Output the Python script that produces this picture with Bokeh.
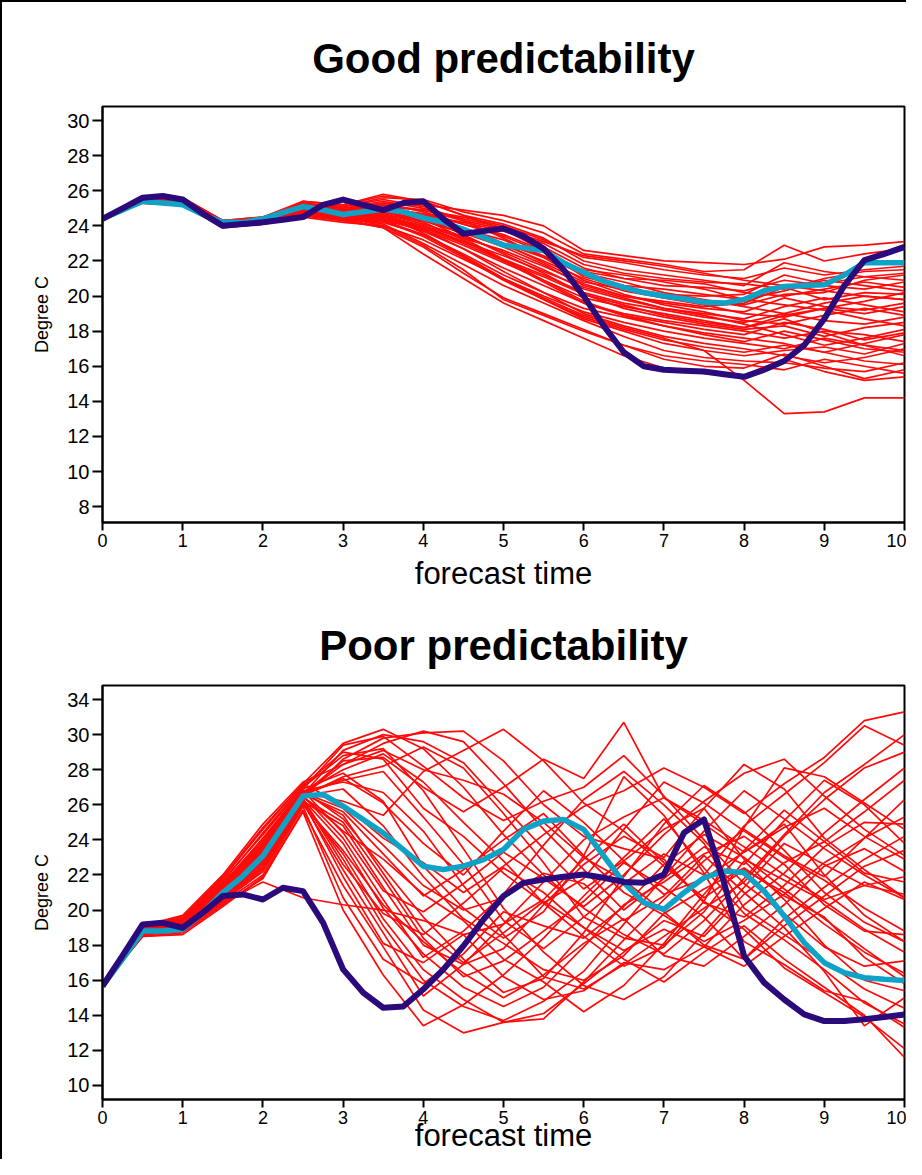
from bokeh.plotting import figure
from bokeh.layouts import column
from bokeh.models import Range1d, FixedTicker
from bokeh.embed import file_html
from bokeh.resources import INLINE

# ---------------- data ----------------
member_days = [0, 0.5, 1, 1.5, 2, 2.5, 3, 3.5, 4, 4.5, 5, 5.5, 6, 6.5, 7, 7.5, 8, 8.5, 9, 9.5, 10]
curve_days = [0, 0.25, 0.5, 0.75, 1, 1.25, 1.5, 1.75, 2, 2.25, 2.5, 2.75, 3, 3.25, 3.5, 3.75,
              4, 4.25, 4.5, 4.75, 5, 5.25, 5.5, 5.75, 6, 6.25, 6.5, 6.75, 7, 7.25, 7.5, 7.75,
              8, 8.25, 8.5, 8.75, 9, 9.25, 9.5, 9.75, 10]
x_ticks = [0, 1, 2, 3, 4, 5, 6, 7, 8, 9, 10]

good_title = "Good predictability"
good_yticks = [8, 10, 12, 14, 16, 18, 20, 22, 24, 26, 28, 30]
good_observed = [24.4, 25.0, 25.6, 25.7, 25.5, 24.7, 24.0, 24.1, 24.2, 24.35, 24.5, 25.2, 25.5, 25.2,
                 24.9, 25.3, 25.4, 24.4, 23.55, 23.7, 23.85, 23.4, 22.7, 21.5, 20.0, 18.3, 16.8,
                 16.0, 15.8, 15.75, 15.7, 15.55, 15.4, 15.8, 16.3, 17.2, 18.7, 20.6, 22.05, 22.4, 22.8]
good_mean = [24.4, 24.9, 25.4, 25.3, 25.2, 24.65, 24.2, 24.2, 24.4, 24.75, 25.1, 24.9, 24.65, 24.8,
             24.95, 24.8, 24.45, 24.2, 23.8, 23.35, 22.9, 22.75, 22.6, 21.9, 21.35, 20.85, 20.5,
             20.2, 20.0, 19.85, 19.65, 19.6, 19.8, 20.3, 20.55, 20.6, 20.65, 21.2, 21.9, 21.9, 21.9]
good_members = [
    [24.4, 25.5, 25.4, 24.1, 24.3, 25.1, 24.9, 25.3, 25.2, 24.9, 24.6, 24.0, 22.6, 22.3, 22.0, 21.9, 21.8, 22.1, 22.8, 22.9, 23.1],
    [24.4, 25.6, 25.6, 24.3, 24.4, 25.3, 25.1, 25.6, 25.5, 24.8, 24.3, 23.6, 22.4, 22.1, 21.8, 21.4, 21.5, 22.9, 22.0, 22.4, 22.7],
    [24.4, 25.4, 25.2, 24.0, 24.2, 24.9, 24.8, 25.1, 24.9, 24.5, 24.0, 23.2, 22.2, 21.9, 21.5, 21.2, 21.0, 21.6, 21.2, 21.5, 21.7],
    [24.4, 25.5, 25.5, 24.2, 24.3, 25.4, 25.2, 25.8, 25.4, 24.6, 24.1, 23.3, 22.0, 21.5, 21.2, 20.9, 20.6, 21.9, 21.4, 21.1, 20.9],
    [24.4, 25.3, 25.3, 24.0, 24.1, 24.8, 24.6, 24.9, 24.6, 24.2, 23.7, 23.0, 21.8, 21.3, 21.0, 20.8, 20.7, 20.4, 21.0, 21.4, 21.5],
    [24.4, 25.6, 25.4, 24.2, 24.5, 25.2, 25.0, 25.4, 25.0, 24.4, 23.9, 22.8, 21.6, 21.0, 20.6, 20.5, 20.3, 20.9, 20.6, 20.4, 20.8],
    [24.4, 25.5, 25.5, 24.1, 24.3, 25.0, 24.7, 25.0, 24.7, 24.1, 23.5, 22.6, 21.4, 21.0, 20.9, 20.7, 20.2, 20.0, 20.4, 20.8, 20.5],
    [24.4, 25.4, 25.3, 24.3, 24.4, 25.1, 24.8, 24.8, 24.4, 23.8, 23.2, 22.3, 21.2, 20.6, 20.4, 20.1, 19.8, 20.3, 20.9, 20.6, 20.3],
    [24.4, 25.5, 25.4, 24.0, 24.2, 24.7, 24.5, 24.6, 24.3, 23.6, 22.9, 22.0, 21.0, 20.3, 19.9, 19.6, 19.5, 20.1, 20.2, 20.9, 21.2],
    [24.4, 25.6, 25.6, 24.2, 24.3, 25.3, 25.0, 25.3, 24.8, 24.1, 23.4, 22.5, 21.3, 20.8, 20.2, 19.8, 19.4, 19.0, 19.6, 20.0, 19.8],
    [24.4, 25.3, 25.2, 23.9, 24.1, 24.6, 24.4, 24.5, 24.0, 23.3, 22.6, 21.7, 20.7, 20.0, 19.6, 19.3, 19.1, 19.9, 19.4, 19.2, 19.6],
    [24.4, 25.5, 25.5, 24.2, 24.4, 25.0, 24.9, 25.2, 24.6, 23.9, 23.0, 21.9, 20.8, 20.4, 19.9, 19.5, 19.0, 18.8, 19.3, 19.7, 20.2],
    [24.4, 25.4, 25.3, 24.1, 24.2, 24.8, 24.6, 24.7, 24.1, 23.4, 22.5, 21.5, 20.4, 19.8, 19.3, 19.0, 18.7, 19.4, 19.9, 19.5, 19.1],
    [24.4, 25.6, 25.5, 24.3, 24.5, 25.2, 25.1, 25.5, 25.1, 24.3, 23.3, 22.2, 20.9, 20.1, 19.5, 19.1, 18.6, 18.4, 18.9, 19.3, 18.9],
    [24.4, 25.5, 25.4, 24.1, 24.3, 24.9, 24.6, 24.6, 24.0, 23.1, 22.1, 21.2, 20.2, 19.6, 19.2, 18.8, 18.5, 19.0, 18.6, 18.4, 18.8],
    [24.4, 25.3, 25.2, 24.0, 24.1, 24.6, 24.3, 24.3, 23.8, 22.9, 21.9, 20.9, 19.9, 19.4, 19.0, 18.6, 18.2, 18.9, 19.3, 19.0, 19.4],
    [24.4, 25.6, 25.6, 24.2, 24.4, 25.1, 24.8, 25.0, 24.5, 23.5, 22.4, 21.3, 20.1, 19.3, 18.8, 18.4, 18.1, 18.3, 17.7, 18.2, 18.5],
    [24.4, 25.4, 25.3, 24.1, 24.2, 24.8, 24.5, 24.4, 23.7, 22.7, 21.6, 20.6, 19.6, 19.0, 18.6, 18.3, 18.0, 17.6, 18.0, 17.8, 17.4],
    [24.4, 25.5, 25.5, 24.2, 24.3, 25.0, 24.7, 24.8, 24.2, 23.2, 22.0, 20.8, 19.6, 18.9, 18.5, 18.1, 17.8, 18.5, 18.1, 17.5, 17.9],
    [24.4, 25.5, 25.4, 24.0, 24.2, 24.7, 24.4, 24.2, 23.5, 22.4, 21.2, 20.2, 19.3, 18.8, 18.3, 17.9, 17.6, 17.3, 16.8, 17.3, 17.8],
    [24.4, 25.6, 25.5, 24.3, 24.4, 25.2, 24.9, 25.1, 24.4, 23.3, 22.1, 20.9, 19.7, 18.9, 18.3, 17.8, 17.4, 18.0, 17.5, 17.0, 16.8],
    [24.4, 25.3, 25.2, 23.9, 24.1, 24.5, 24.2, 24.0, 23.2, 22.1, 21.0, 20.0, 19.1, 18.5, 18.0, 17.6, 17.3, 17.0, 17.6, 17.2, 16.6],
    [24.4, 25.4, 25.4, 24.1, 24.3, 24.9, 24.6, 24.5, 23.8, 22.7, 21.4, 20.2, 19.0, 18.3, 17.7, 17.3, 17.0, 16.6, 16.2, 16.5, 17.0],
    [24.4, 25.5, 25.5, 24.2, 24.3, 25.0, 24.6, 24.3, 23.4, 22.2, 20.9, 19.8, 18.8, 18.1, 17.5, 17.1, 16.8, 17.2, 16.8, 16.3, 16.1],
    [24.4, 25.6, 25.4, 24.1, 24.2, 24.8, 24.5, 24.1, 23.0, 21.8, 20.6, 19.6, 18.6, 17.7, 16.9, 16.5, 16.3, 16.2, 15.9, 15.7, 16.2],
    [24.4, 25.4, 25.3, 24.0, 24.1, 24.6, 24.3, 23.9, 22.8, 21.3, 19.9, 19.0, 18.1, 17.2, 16.4, 16.0, 15.9, 16.7, 16.0, 15.3, 15.8],
    [24.4, 25.5, 25.4, 24.2, 24.3, 24.9, 24.5, 24.0, 22.9, 21.5, 19.8, 18.9, 18.0, 17.2, 16.6, 16.3, 16.1, 15.8, 16.4, 16.0, 15.6],
    [24.4, 25.5, 25.5, 24.1, 24.2, 24.7, 24.4, 23.9, 22.4, 21.0, 19.6, 18.6, 17.6, 16.6, 15.9, 15.6, 15.5, 16.4, 15.7, 15.2, 15.4],
    [24.4, 25.4, 25.3, 24.0, 24.2, 24.8, 24.5, 24.3, 23.5, 22.3, 21.0, 19.9, 18.9, 18.2, 17.6, 16.9, 15.2, 13.3, 13.4, 14.2, 14.2],
    [24.4, 25.6, 25.5, 24.2, 24.4, 25.1, 24.8, 24.6, 23.6, 22.3, 21.0, 19.8, 18.7, 18.0, 17.3, 16.9, 16.6, 16.9, 17.1, 16.7, 17.3],
    [24.4, 25.5, 25.4, 24.1, 24.3, 24.9, 24.7, 24.9, 24.5, 23.8, 23.0, 22.2, 21.5, 21.2, 20.8, 20.4, 19.8, 19.5, 19.2, 18.7, 18.3],
    [24.4, 25.4, 25.3, 24.2, 24.3, 25.0, 24.7, 25.2, 24.9, 24.3, 23.8, 23.1, 22.3, 22.0, 21.7, 21.3, 20.9, 20.6, 20.3, 20.0, 19.8],
    [24.4, 25.5, 25.5, 24.1, 24.2, 24.8, 24.6, 24.8, 24.3, 23.6, 22.8, 21.8, 20.6, 20.0, 19.7, 19.4, 19.6, 20.5, 19.8, 20.2, 20.1],
    [24.4, 25.6, 25.6, 24.3, 24.5, 25.4, 25.2, 25.7, 25.4, 24.6, 23.8, 22.6, 21.1, 20.5, 20.1, 20.0, 20.1, 21.2, 20.7, 21.1, 21.3],
    [24.4, 25.3, 25.2, 24.0, 24.1, 24.6, 24.4, 24.4, 23.9, 23.1, 22.3, 21.4, 20.5, 19.9, 19.3, 18.9, 18.4, 17.8, 17.2, 17.6, 18.1],
    [24.4, 25.5, 25.4, 24.2, 24.3, 24.9, 24.6, 24.5, 23.9, 23.0, 22.0, 21.1, 20.1, 19.5, 18.9, 18.5, 18.2, 18.7, 17.9, 17.2, 16.9],
]

poor_title = "Poor predictability"
poor_yticks = [10, 12, 14, 16, 18, 20, 22, 24, 26, 28, 30, 32]
poor_ytick_labels = ["10", "12", "14", "16", "18", "20", "22", "24", "26", "28", "30", "34"]
poor_observed = [15.67, 17.4, 19.18, 19.27, 18.99, 19.85, 20.8, 20.89, 20.6, 21.27, 21.08, 19.28, 16.62,
                 15.29, 14.43, 14.5, 15.48, 16.62, 17.95, 19.46, 20.8, 21.55, 21.74, 21.9, 22.03,
                 21.84, 21.6, 21.55, 22.03, 24.4, 25.16, 21.56, 17.38, 15.86, 14.9, 14.05, 13.67,
                 13.67, 13.77, 13.9, 14.05]
poor_mean = [15.67, 17.2, 18.8, 18.8, 18.9, 19.85, 20.99, 21.94, 23.08, 24.79, 26.5, 26.59, 25.93,
             25.16, 24.4, 23.45, 22.5, 22.31, 22.5, 22.88, 23.45, 24.6, 25.07, 25.16, 24.6, 23.08,
             21.56, 20.42, 20.04, 20.99, 21.84, 22.22, 22.12, 21.08, 19.66, 18.14, 17.0, 16.43,
             16.14, 16.05, 15.99]
poor_members = [
    [15.7, 18.9, 19.3, 21.2, 23.4, 26.6, 29.1, 30.0, 29.6, 28.4, 25.9, 23.5, 21.2, 22.8, 24.6, 25.8, 22.9, 21.7, 20.5, 18.9, 17.6],
    [15.7, 18.8, 19.1, 20.9, 23.0, 26.4, 28.6, 29.8, 30.1, 30.2, 28.5, 26.0, 24.2, 23.5, 22.9, 20.4, 19.6, 21.4, 23.6, 25.0, 24.9],
    [15.7, 19.0, 19.5, 21.5, 24.0, 26.9, 27.8, 26.2, 22.5, 20.1, 18.4, 19.9, 23.1, 27.6, 25.4, 22.1, 18.2, 16.9, 15.4, 14.8, 13.3],
    [15.7, 18.7, 19.0, 20.7, 22.6, 26.2, 24.8, 21.3, 18.0, 16.9, 17.8, 20.3, 22.6, 24.2, 23.0, 25.8, 28.3, 26.9, 24.1, 22.3, 20.7],
    [15.7, 18.9, 19.4, 21.3, 23.7, 26.8, 25.2, 22.4, 19.6, 17.2, 15.3, 16.1, 18.7, 21.9, 24.9, 27.1, 25.6, 23.4, 21.0, 19.3, 18.2],
    [15.7, 18.6, 18.8, 20.5, 22.2, 26.0, 23.2, 19.5, 16.6, 14.9, 13.6, 13.8, 15.9, 18.3, 20.6, 22.8, 24.6, 23.1, 21.9, 24.1, 26.3],
    [15.7, 19.1, 19.6, 21.8, 24.6, 27.2, 29.5, 30.3, 29.2, 27.0, 24.3, 22.0, 20.1, 18.6, 17.5, 19.4, 21.8, 24.3, 26.7, 28.3, 30.0],
    [15.7, 18.8, 19.2, 21.0, 23.1, 26.5, 26.9, 24.8, 21.9, 19.5, 18.1, 16.6, 16.0, 17.4, 19.8, 21.2, 22.4, 20.8, 19.6, 17.3, 15.8],
    [15.7, 18.7, 18.9, 20.6, 22.4, 26.1, 22.3, 18.7, 15.1, 16.9, 19.2, 21.6, 24.0, 25.3, 26.4, 24.9, 23.3, 24.7, 25.8, 24.2, 22.9],
    [15.7, 18.9, 19.3, 21.4, 23.6, 26.7, 28.0, 28.9, 27.3, 25.0, 22.8, 20.4, 18.5, 16.8, 17.9, 20.5, 24.7, 28.1, 27.6, 26.1, 24.6],
    [15.7, 19.0, 19.5, 21.7, 24.3, 27.0, 28.8, 29.2, 26.8, 23.5, 20.1, 17.6, 15.7, 14.9, 16.2, 18.7, 21.3, 23.8, 22.6, 21.4, 20.9],
    [15.7, 18.5, 18.7, 20.3, 21.8, 25.7, 21.4, 17.9, 14.3, 13.0, 13.6, 14.1, 15.8, 17.6, 19.4, 18.5, 20.9, 22.7, 23.9, 25.6, 27.4],
    [15.7, 18.8, 19.1, 21.0, 23.2, 26.5, 24.1, 20.6, 17.3, 18.8, 20.9, 23.7, 26.3, 27.9, 26.0, 23.8, 20.1, 18.6, 17.1, 15.5, 14.4],
    [15.7, 18.9, 19.3, 21.2, 23.5, 26.6, 27.4, 27.9, 25.3, 22.6, 19.4, 17.8, 19.6, 21.5, 23.2, 22.0, 24.8, 26.6, 28.4, 30.5, 29.4],
    [15.7, 18.6, 18.9, 20.4, 22.0, 25.9, 20.7, 17.2, 15.8, 17.5, 19.9, 19.1, 18.4, 20.2, 22.6, 24.3, 23.0, 21.2, 19.5, 17.8, 16.2],
    [15.7, 19.1, 19.7, 22.0, 24.9, 27.3, 28.3, 29.5, 30.2, 29.6, 27.2, 24.6, 22.3, 20.0, 21.8, 23.6, 22.6, 25.1, 27.4, 26.0, 23.8],
    [15.7, 18.7, 19.0, 20.7, 22.7, 26.3, 23.8, 20.1, 17.5, 15.6, 14.5, 15.6, 17.9, 20.3, 21.6, 23.2, 24.2, 22.6, 20.3, 18.8, 18.6],
    [15.7, 18.8, 19.2, 21.1, 23.3, 26.6, 25.6, 23.2, 20.8, 22.3, 24.0, 25.5, 23.1, 21.0, 19.7, 18.2, 19.4, 20.9, 22.7, 24.1, 25.3],
    [15.7, 19.0, 19.4, 21.5, 24.1, 26.9, 29.4, 29.9, 28.2, 26.4, 25.1, 26.2, 27.0, 28.8, 26.5, 24.0, 21.5, 19.8, 17.9, 16.8, 17.1],
    [15.7, 18.6, 18.8, 20.4, 21.6, 20.7, 20.3, 20.0, 19.4, 18.6, 19.2, 20.6, 22.9, 24.9, 22.7, 20.5, 18.9, 16.7, 15.3, 13.9, 12.1],
    [15.7, 18.8, 19.1, 20.9, 22.9, 26.4, 25.0, 21.8, 18.4, 16.2, 17.1, 18.8, 20.5, 22.7, 21.3, 19.6, 17.2, 19.5, 21.3, 22.9, 24.2],
    [15.7, 18.9, 19.4, 21.4, 23.8, 26.8, 27.3, 26.7, 24.5, 21.4, 18.6, 16.2, 15.5, 16.9, 18.5, 20.1, 21.6, 24.2, 26.3, 28.1, 29.0],
    [15.7, 18.7, 19.0, 20.8, 22.8, 26.3, 22.9, 19.1, 16.0, 14.5, 13.7, 14.8, 16.5, 19.2, 21.9, 24.5, 26.8, 25.2, 23.5, 22.0, 20.7],
    [15.7, 19.0, 19.5, 21.6, 24.4, 27.1, 29.0, 28.6, 25.8, 24.2, 22.1, 20.4, 21.8, 24.6, 27.3, 26.1, 24.5, 23.0, 21.7, 20.1, 18.8],
    [15.7, 18.8, 19.1, 21.0, 23.0, 26.5, 24.5, 22.9, 20.9, 19.4, 17.2, 15.9, 14.2, 15.7, 18.1, 20.9, 23.4, 25.7, 23.9, 22.1, 21.6],
    [15.7, 18.9, 19.3, 21.3, 23.5, 26.7, 26.2, 25.4, 27.9, 29.1, 30.3, 28.5, 26.1, 24.5, 22.5, 20.7, 22.3, 21.0, 19.2, 17.6, 16.4],
    [15.7, 18.5, 18.6, 20.2, 21.9, 25.6, 20.0, 16.3, 13.4, 14.6, 16.3, 18.4, 20.8, 23.0, 25.2, 22.4, 19.8, 18.3, 16.6, 14.7, 13.5],
    [15.7, 18.8, 19.2, 21.1, 23.3, 26.6, 28.3, 29.1, 28.0, 27.4, 26.6, 25.0, 23.0, 21.7, 19.9, 18.0, 17.2, 19.1, 20.8, 22.5, 23.4],
    [15.7, 18.7, 18.9, 20.6, 22.5, 26.2, 21.9, 18.1, 17.0, 18.6, 16.2, 14.9, 15.4, 17.0, 16.6, 17.9, 20.3, 22.1, 24.4, 26.3, 28.1],
    [15.7, 19.1, 19.6, 21.9, 24.7, 27.2, 26.0, 24.1, 22.7, 21.0, 22.5, 24.3, 25.9, 26.8, 28.1, 27.0, 25.5, 27.2, 28.7, 30.8, 31.3],
    [15.7, 18.9, 19.3, 21.3, 23.6, 26.7, 25.8, 23.7, 21.4, 20.0, 20.7, 22.1, 21.5, 19.4, 20.8, 23.1, 21.0, 19.0, 16.5, 13.4, 15.0],
    [15.7, 18.6, 18.9, 20.5, 22.3, 26.0, 23.4, 20.3, 18.2, 16.4, 15.0, 16.3, 18.1, 19.5, 17.4, 16.8, 18.5, 20.3, 22.5, 23.5, 22.2],
    [15.7, 18.8, 19.2, 21.1, 23.2, 26.5, 27.6, 28.2, 29.3, 28.1, 25.5, 22.7, 19.6, 18.4, 18.0, 19.9, 22.8, 20.6, 18.0, 16.0, 15.4],
    [15.7, 19.0, 19.4, 21.4, 23.9, 26.8, 24.4, 21.1, 19.9, 21.5, 23.3, 21.8, 20.2, 22.0, 24.3, 26.2, 27.8, 28.6, 26.5, 24.6, 23.1],
    [15.7, 18.7, 19.0, 20.8, 22.8, 26.3, 22.6, 19.8, 18.6, 20.4, 22.4, 21.0, 19.0, 17.2, 15.9, 17.6, 19.1, 17.2, 15.6, 14.0, 11.6],
    [15.7, 18.9, 19.3, 21.2, 23.4, 26.6, 28.5, 28.7, 27.0, 25.6, 27.0, 28.6, 27.5, 30.7, 26.4, 25.1, 23.6, 22.0, 20.6, 21.4, 21.9],
    [15.7, 18.8, 19.2, 21.1, 23.3, 26.6, 27.5, 26.1, 23.8, 22.0, 24.5, 26.8, 25.0, 22.8, 20.9, 21.8, 23.3, 24.9, 22.0, 19.7, 18.2],
    [15.7, 18.9, 19.4, 21.3, 23.7, 26.7, 25.4, 22.1, 18.8, 17.0, 18.7, 20.5, 19.0, 17.7, 18.9, 17.9, 16.8, 18.5, 20.1, 21.6, 20.6],
]

x_label = "forecast time"
y_label = "Degree C"

MEMBER_COLOR = "#ff0a0a"
MEAN_COLOR = "#0ea3c6"
OBS_COLOR = "#2b0a7c"
FONT = "Liberation Sans"


def make_panel(title, yticks, ylabels, yrange, members, mean, observed,
               height, top, bottom, title_standoff, label_standoff):
    p = figure(width=904, height=height, x_range=Range1d(0, 10), y_range=Range1d(*yrange),
               output_backend="svg", toolbar_location=None,
               min_border_left=100, min_border_right=2,
               min_border_top=top, min_border_bottom=bottom)
    p.title.text = title
    p.title.align = "center"
    p.title.text_font = FONT
    p.title.text_font_size = "42px"
    p.title.text_font_style = "bold"
    p.title.text_color = "black"
    p.title.standoff = title_standoff

    p.outline_line_color = "black"
    p.outline_line_width = 2
    p.outline_line_alpha = 1
    p.xgrid.visible = False
    p.ygrid.visible = False
    p.background_fill_color = "white"
    p.border_fill_color = "white"

    for m in members:
        p.line(member_days, m, line_color=MEMBER_COLOR, line_width=1.7)
    p.line(curve_days, mean, line_color=MEAN_COLOR, line_width=5.5, line_join="round")
    p.line(curve_days, observed, line_color=OBS_COLOR, line_width=6, line_join="round")

    xa = p.xaxis[0]
    xa.ticker = FixedTicker(ticks=x_ticks)
    xa.minor_tick_line_color = None
    xa.major_tick_in = 0
    xa.major_tick_out = 8
    xa.major_tick_line_width = 2
    xa.axis_line_width = 2
    xa.major_label_text_font = FONT
    xa.major_label_text_font_size = "18px"
    xa.major_label_text_color = "black"
    xa.major_label_standoff = 3
    xa.axis_label = x_label
    xa.axis_label_text_font = FONT
    xa.axis_label_text_font_size = "31px"
    xa.axis_label_text_font_style = "normal"
    xa.axis_label_text_color = "black"
    xa.axis_label_standoff = label_standoff

    ya = p.yaxis[0]
    ya.ticker = FixedTicker(ticks=yticks)
    ya.major_label_overrides = {t: s for t, s in zip(yticks, ylabels)}
    ya.minor_tick_line_color = None
    ya.major_tick_in = 0
    ya.major_tick_out = 10
    ya.major_tick_line_width = 2
    ya.axis_line_width = 2
    ya.major_label_text_font = FONT
    ya.major_label_text_font_size = "20px"
    ya.major_label_text_color = "black"
    ya.major_label_standoff = 3
    ya.axis_label = y_label
    ya.axis_label_text_font = FONT
    ya.axis_label_text_font_size = "18px"
    ya.axis_label_text_font_style = "normal"
    ya.axis_label_text_color = "black"
    ya.axis_label_standoff = 12
    return p


p1 = make_panel(good_title, good_yticks, [str(t) for t in good_yticks], (7.1, 30.8),
                good_members, good_mean, good_observed, 601, 104, 81, 50, 6)
p2 = make_panel(poor_title, poor_yticks, poor_ytick_labels, (9.2, 32.8),
                poor_members, poor_mean, poor_observed, 556, 82, 60, 33, -9)

layout = column(p1, p2, spacing=0,
                styles={"border-left": "2px solid black", "border-top": "2px solid black"})

open("out.html", "w").write(file_html(layout, INLINE))
